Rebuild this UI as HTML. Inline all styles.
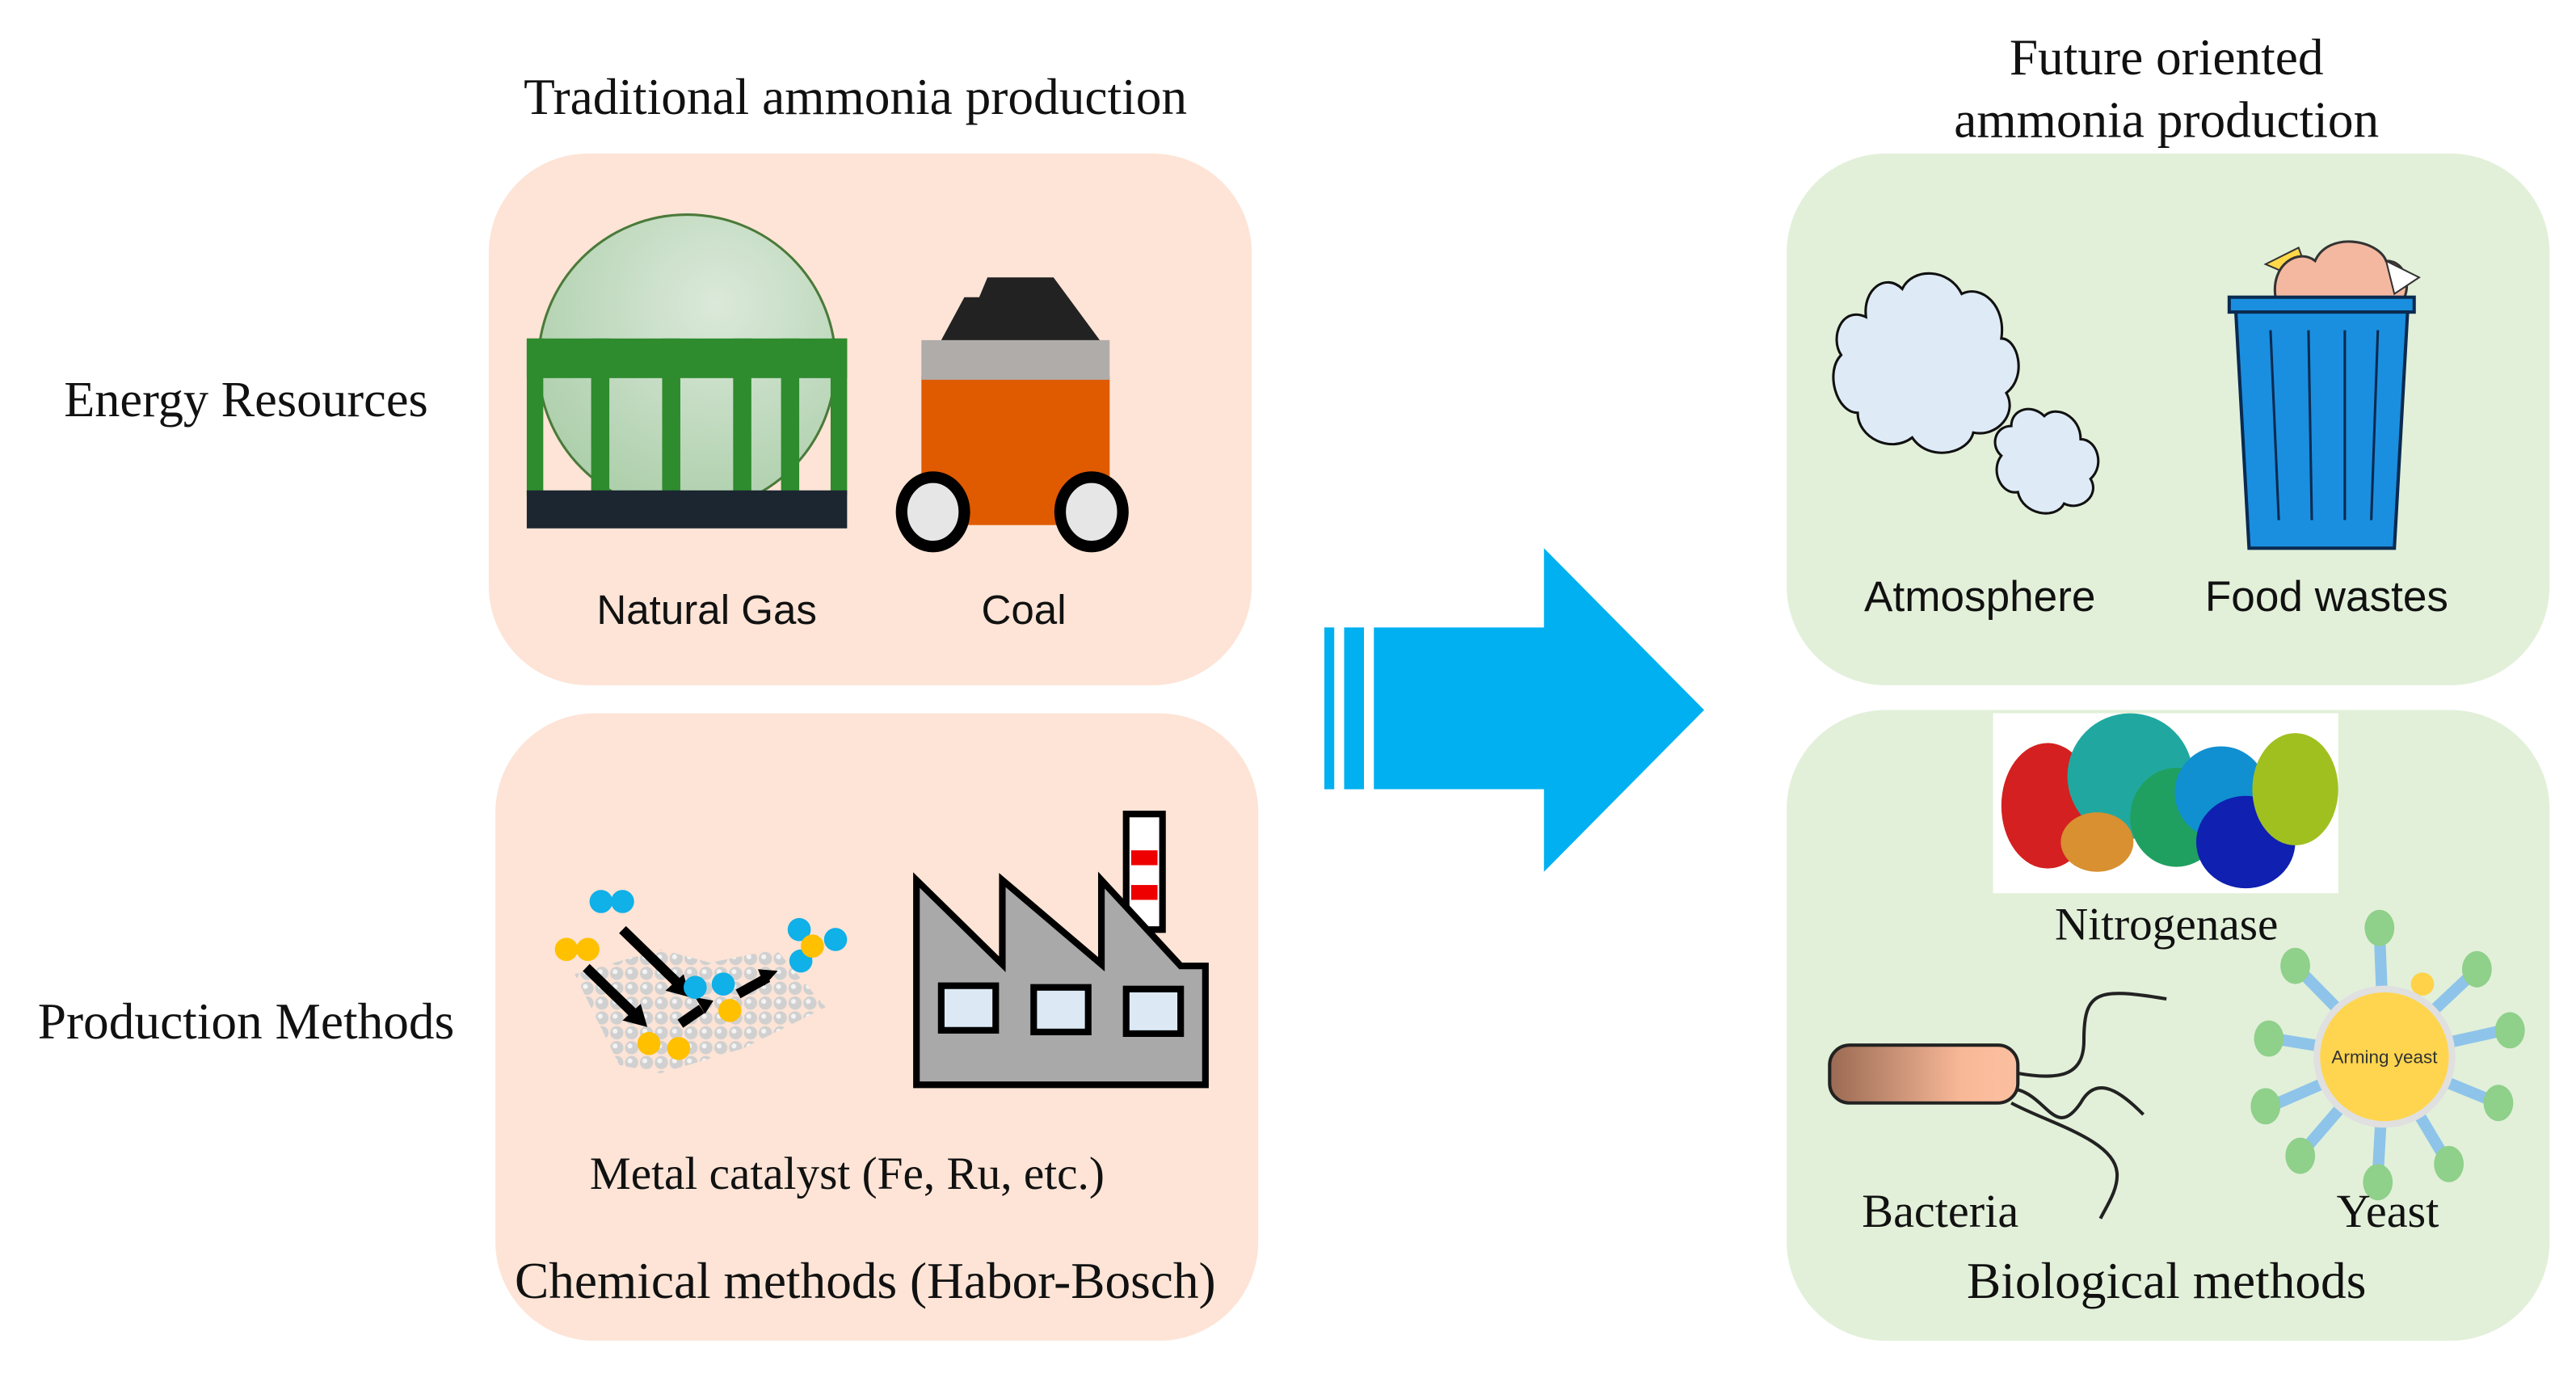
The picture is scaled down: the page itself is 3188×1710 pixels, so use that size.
<!DOCTYPE html>
<html><head><meta charset="utf-8"><style>
html,body{margin:0;padding:0;background:#fff;}
svg{display:block;}
.s{font-family:"Liberation Serif",serif;fill:#111;text-anchor:middle;}
.a{font-family:"Liberation Sans",sans-serif;fill:#111;text-anchor:middle;}
</style></head><body>
<svg width="3188" height="1710" viewBox="0 0 1560 837" preserveAspectRatio="none" xmlns="http://www.w3.org/2000/svg">
<defs>
<radialGradient id="gt" cx="0.6" cy="0.3" r="0.8"><stop offset="0" stop-color="#dbe9da"/><stop offset="1" stop-color="#a8cca6"/></radialGradient>
<linearGradient id="bac" x1="0" x2="1"><stop offset="0" stop-color="#9a6a52"/><stop offset="0.7" stop-color="#f8b898"/><stop offset="1" stop-color="#fbc0a0"/></linearGradient>
<pattern id="cat" width="9" height="9" patternUnits="userSpaceOnUse"><circle cx="4.5" cy="4.5" r="4" fill="#d0d0d0"/><circle cx="3.5" cy="3.5" r="1.5" fill="#f4f4f4"/></pattern>
</defs>
<!-- titles -->
<text class="s" x="518" y="69" font-size="31">Traditional ammonia production</text>
<text class="s" x="1312" y="45" font-size="31">Future oriented</text>
<text class="s" x="1312" y="83" font-size="31">ammonia production</text>
<text class="s" x="149" y="252" font-size="30.5">Energy Resources</text>
<text class="s" x="149" y="629" font-size="31">Production Methods</text>
<!-- boxes -->
<rect x="296" y="93" width="462" height="322" rx="60" fill="#fde4d6"/>
<rect x="300" y="432" width="462" height="380" rx="60" fill="#fde4d6"/>
<rect x="1082" y="93" width="462" height="322" rx="60" fill="#e2f0d9"/>
<rect x="1082" y="430" width="462" height="382" rx="60" fill="#e2f0d9"/>
<!-- big arrow -->
<g fill="#00b0f0">
<rect x="802" y="380" width="6" height="98"/>
<rect x="814" y="380" width="12" height="98"/>
<polygon points="832,380 935,380 935,332 1032,430 935,528 935,478 832,478"/>
</g>
<!-- gas tank -->
<ellipse cx="416" cy="220" rx="90" ry="90" fill="url(#gt)" stroke="#4a7a3a" stroke-width="1.5"/>
<g fill="#2e8b2e">
<rect x="319" y="205" width="194" height="24"/>
<rect x="319" y="205" width="10" height="95"/>
<rect x="358" y="205" width="11" height="95"/>
<rect x="401" y="205" width="11" height="95"/>
<rect x="444" y="205" width="11" height="95"/>
<rect x="473" y="205" width="11" height="95"/>
<rect x="503" y="205" width="10" height="95"/>
</g>
<rect x="319" y="297" width="194" height="23" fill="#1b2631"/>
<!-- coal cart -->
<rect x="558" y="228" width="114" height="90" fill="#e05a00"/>
<rect x="558" y="206" width="114" height="24" fill="#b0acaa"/>
<polygon points="570,206 584,180 593,180 598,168 638,168 666,206" fill="#222"/>
<ellipse cx="565" cy="310" rx="19" ry="21" fill="#e6e6e6" stroke="#000" stroke-width="7"/>
<ellipse cx="661" cy="310" rx="19" ry="21" fill="#e6e6e6" stroke="#000" stroke-width="7"/>
<text class="a" x="428" y="378" font-size="25">Natural Gas</text>
<text class="a" x="620" y="378" font-size="25">Coal</text>
<!-- catalyst -->
<polygon points="348,590 400,575 430,583 470,575 500,610 450,635 400,650 375,645" fill="url(#cat)"/>
<g stroke="#000" stroke-width="6" fill="none">
<line x1="377" y1="563" x2="412" y2="597"/><line x1="355" y1="586" x2="385" y2="615"/><line x1="412" y1="620" x2="425" y2="611"/><line x1="447" y1="602" x2="465" y2="592"/>
</g>
<g fill="#000"><polygon points="418,604 403,600 414,590"/><polygon points="392,622 377,618 388,608"/><polygon points="432,606 421,604 427,614"/><polygon points="471,588 459,587 463,597"/></g>
<g fill="#10b0e8"><circle cx="364" cy="546" r="7"/><circle cx="377" cy="546" r="7"/><circle cx="421" cy="598" r="7"/><circle cx="438" cy="596" r="7"/><circle cx="484" cy="563" r="7"/><circle cx="506" cy="569" r="7"/><circle cx="485" cy="582" r="7"/></g>
<g fill="#ffc000"><circle cx="343" cy="575" r="7"/><circle cx="356" cy="575" r="7"/><circle cx="442" cy="612" r="7"/><circle cx="393" cy="632" r="7"/><circle cx="411" cy="635" r="7"/><circle cx="492" cy="573" r="7"/></g>
<!-- factory -->
<rect x="682" y="493" width="22" height="70" fill="#fff" stroke="#000" stroke-width="4"/>
<rect x="685" y="515" width="16" height="9" fill="#e00"/><rect x="685" y="536" width="16" height="9" fill="#e00"/>
<polygon points="555,657 555,533 607,584 607,533 667,584 667,533 715,585 730,585 730,657" fill="#a9a9a9" stroke="#000" stroke-width="4"/>
<g fill="#dce9f5" stroke="#000" stroke-width="4"><rect x="570" y="597" width="33" height="27"/><rect x="626" y="598" width="33" height="27"/><rect x="682" y="599" width="33" height="27"/></g>
<text class="s" x="513" y="720" font-size="28">Metal catalyst (Fe, Ru, etc.)</text>
<text class="s" x="524" y="786" font-size="31">Chemical methods (Habor-Bosch)</text>
<!-- clouds -->
<g fill="#deebf7" stroke="#111" stroke-width="1.5">
<path d="M1130,192 C1115,185 1108,205 1115,215 C1105,225 1112,250 1125,250 C1125,265 1145,275 1158,265 C1168,280 1192,275 1195,262 C1210,265 1222,250 1215,238 C1228,228 1222,205 1212,205 C1215,185 1200,172 1188,178 C1180,162 1158,162 1152,175 C1142,165 1128,175 1130,192 Z"/>
<path d="M1218,258 C1208,258 1205,270 1212,276 C1205,285 1212,300 1222,298 C1225,312 1245,315 1250,305 C1260,310 1272,300 1266,290 C1275,282 1270,266 1260,266 C1260,252 1245,245 1238,252 C1230,244 1218,248 1218,258 Z"/>
</g>
<!-- trash bin -->
<path d="M1372,160 L1392,150 L1400,172 Z" fill="#ffd84a" stroke="#333" stroke-width="1"/>
<path d="M1378,180 C1375,160 1392,150 1402,158 C1410,140 1440,145 1445,158 C1458,158 1460,175 1455,182 Z" fill="#f4b8a0" stroke="#333" stroke-width="1.5"/>
<polygon points="1445,158 1465,168 1450,178" fill="#fff" stroke="#333" stroke-width="1"/>
<rect x="1350" y="180" width="112" height="9" fill="#1a8fe0" stroke="#0a2a50" stroke-width="2"/>
<polygon points="1354,189 1458,189 1450,332 1362,332" fill="#1a8fe0" stroke="#0a2a50" stroke-width="2"/>
<g stroke="#0a2a50" stroke-width="1.5"><line x1="1375" y1="200" x2="1380" y2="315"/><line x1="1398" y1="200" x2="1400" y2="315"/><line x1="1420" y1="200" x2="1420" y2="315"/><line x1="1440" y1="200" x2="1436" y2="315"/></g>
<text class="a" x="1199" y="370" font-size="26">Atmosphere</text>
<text class="a" x="1409" y="370" font-size="26">Food wastes</text>
<!-- protein -->
<rect x="1207" y="432" width="209" height="109" fill="#fff"/>
<ellipse cx="1240" cy="488" rx="28" ry="38" fill="#d42020"/>
<ellipse cx="1290" cy="470" rx="38" ry="38" fill="#20a8a0"/>
<ellipse cx="1270" cy="510" rx="22" ry="18" fill="#d89030"/>
<ellipse cx="1318" cy="495" rx="28" ry="30" fill="#20a060"/>
<ellipse cx="1345" cy="480" rx="28" ry="28" fill="#1090d0"/>
<ellipse cx="1360" cy="510" rx="30" ry="28" fill="#1020b0"/>
<ellipse cx="1390" cy="478" rx="26" ry="34" fill="#a0c020"/>
<text class="s" x="1312" y="569" font-size="28">Nitrogenase</text>
<!-- bacteria -->
<g fill="none" stroke="#222" stroke-width="2">
<path d="M1222,650 C1250,655 1262,650 1262,630 C1262,600 1270,598 1312,605"/>
<path d="M1222,660 C1240,665 1245,690 1260,668 C1270,650 1285,662 1298,675"/>
<path d="M1218,668 C1240,680 1280,690 1282,710 C1283,720 1276,730 1272,738"/>
</g>
<rect x="1108" y="633" width="114" height="35" rx="12" fill="url(#bac)" stroke="#222" stroke-width="2"/>
<!-- yeast -->
<g stroke="#8ec4ea" stroke-width="7">
<line x1="1444" y1="640" x2="1441" y2="565"/><line x1="1444" y1="640" x2="1393" y2="588"/><line x1="1444" y1="640" x2="1497" y2="590"/>
<line x1="1444" y1="640" x2="1377" y2="629"/><line x1="1444" y1="640" x2="1516" y2="624"/>
<line x1="1444" y1="640" x2="1375" y2="670"/><line x1="1444" y1="640" x2="1510" y2="667"/>
<line x1="1444" y1="640" x2="1395" y2="697"/><line x1="1444" y1="640" x2="1481" y2="702"/><line x1="1444" y1="640" x2="1440" y2="712"/>
</g>
<g fill="#8fd08a">
<ellipse cx="1441" cy="562" rx="9" ry="11"/><ellipse cx="1390" cy="585" rx="9" ry="11"/><ellipse cx="1500" cy="587" rx="9" ry="11"/>
<ellipse cx="1374" cy="629" rx="9" ry="11"/><ellipse cx="1520" cy="624" rx="9" ry="11"/>
<ellipse cx="1372" cy="670" rx="9" ry="11"/><ellipse cx="1513" cy="668" rx="9" ry="11"/>
<ellipse cx="1393" cy="700" rx="9" ry="11"/><ellipse cx="1483" cy="705" rx="9" ry="11"/><ellipse cx="1440" cy="716" rx="9" ry="11"/>
</g>
<circle cx="1467" cy="596" r="7" fill="#ffd24a"/>
<circle cx="1444" cy="640" r="43" fill="#e0e0e0"/>
<circle cx="1444" cy="640" r="39" fill="#ffd54f"/>
<text x="1444" y="644" font-family="Liberation Sans,sans-serif" font-size="11" fill="#333" text-anchor="middle">Arming yeast</text>
<text class="s" x="1175" y="743" font-size="28.5">Bacteria</text>
<text class="s" x="1446" y="743" font-size="28.5">Yeast</text>
<text class="s" x="1312" y="786" font-size="31">Biological methods</text>
</svg>
</body></html>
